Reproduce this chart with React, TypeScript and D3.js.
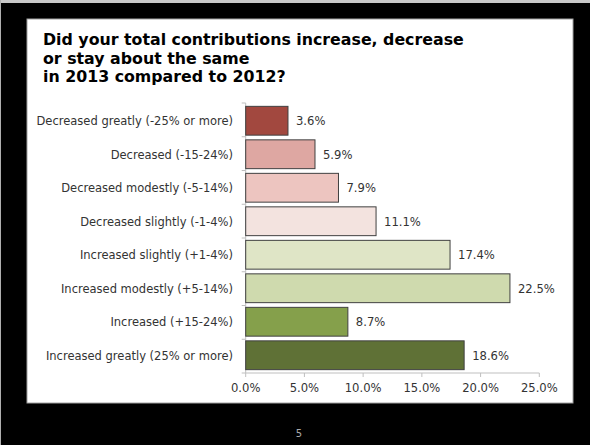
import React from "react";
import * as d3 from "d3";

const categories = [
  "Decreased greatly (-25% or more)",
  "Decreased (-15-24%)",
  "Decreased modestly (-5-14%)",
  "Decreased slightly (-1-4%)",
  "Increased slightly (+1-4%)",
  "Increased modestly (+5-14%)",
  "Increased (+15-24%)",
  "Increased greatly (25% or more)",
];
const values = [3.6, 5.9, 7.9, 11.1, 17.4, 22.5, 8.7, 18.6];
const colors = [
  "#a2483f",
  "#dea7a2",
  "#edc5c0",
  "#f3e3df",
  "#dfe5c6",
  "#cfdaae",
  "#85a04b",
  "#5f7136",
];
const xTicks = [0, 5, 10, 15, 20, 25];
const titleLines = [
  "Did your total contributions increase, decrease",
  "or stay about the same",
  "in 2013 compared to 2012?",
];
const pageNumber = "5";

const W = 590;
const H = 445;
const FONT = "'DejaVu Sans', Verdana, sans-serif";

export default function App() {
  const x = d3.scaleLinear().domain([0, 25]).range([245.7, 539.3]);
  const y = d3
    .scaleBand<string>()
    .domain(categories)
    .range([104, 372])
    .paddingInner(0.14)
    .paddingOuter(0.07);
  const axisTop = 103;
  const axisBottom = 373;
  const step = (axisBottom - axisTop) / categories.length;
  const boundaries = d3.range(categories.length + 1).map((i) => axisTop + i * step);
  const x0 = x(0);

  return (
    <svg
      width={W}
      height={H}
      style={{ position: "fixed", left: 0, top: 0, display: "block" }}
    >
      <rect x={0} y={0} width={W} height={H} fill="#000" />
      <rect x={0} y={0} width={W} height={3} fill="#c8c8c8" />
      <rect x={0} y={0} width={1} height={H} fill="#b0b0b0" />
      <rect x={27} y={19} width={546} height={384} fill="#fff" stroke="#a0a0a0" strokeWidth={1} />

      {titleLines.map((t, i) => (
        <text
          key={i}
          x={43}
          y={45 + i * 18.5}
          fontFamily={FONT}
          fontWeight="bold"
          fontSize={15.8}
          fill="#000"
        >
          {t}
        </text>
      ))}

      {/* axes */}
      <line x1={x0} x2={x0} y1={axisTop} y2={axisBottom} stroke="#bfbfbf" strokeWidth={1} />
      {boundaries.map((b, i) => (
        <line key={"yt" + i} x1={x0 - 4} x2={x0} y1={b} y2={b} stroke="#bfbfbf" strokeWidth={1} />
      ))}
      <line x1={x0} x2={x(25)} y1={axisBottom} y2={axisBottom} stroke="#bfbfbf" strokeWidth={1} />
      {xTicks.map((t) => (
        <g key={"xt" + t}>
          <line x1={x(t)} x2={x(t)} y1={axisBottom} y2={axisBottom + 4} stroke="#bfbfbf" strokeWidth={1} />
          <text
            x={x(t)}
            y={392}
            textAnchor="middle"
            fontFamily={FONT}
            fontSize={11.6}
            fill="#333"
          >
            {t.toFixed(1) + "%"}
          </text>
        </g>
      ))}

      {/* bars */}
      {categories.map((c, i) => {
        const by = y(c)!;
        const bh = y.bandwidth();
        return (
          <g key={c}>
            <rect
              x={x0}
              y={by}
              width={x(values[i]) - x0}
              height={bh}
              fill={colors[i]}
              stroke="#404040"
              strokeWidth={1}
            />
            <text
              x={233}
              y={by + bh / 2 + 4.3}
              textAnchor="end"
              fontFamily={FONT}
              fontSize={11.5}
              fill="#333"
            >
              {c}
            </text>
            <text
              x={x(values[i]) + 8}
              y={by + bh / 2 + 4.3}
              fontFamily={FONT}
              fontSize={11.6}
              fill="#333"
            >
              {values[i].toFixed(1) + "%"}
            </text>
          </g>
        );
      })}

      <text
        x={299}
        y={437}
        textAnchor="middle"
        fontFamily={FONT}
        fontSize={10}
        fill="#aaa"
      >
        {pageNumber}
      </text>
    </svg>
  );
}
